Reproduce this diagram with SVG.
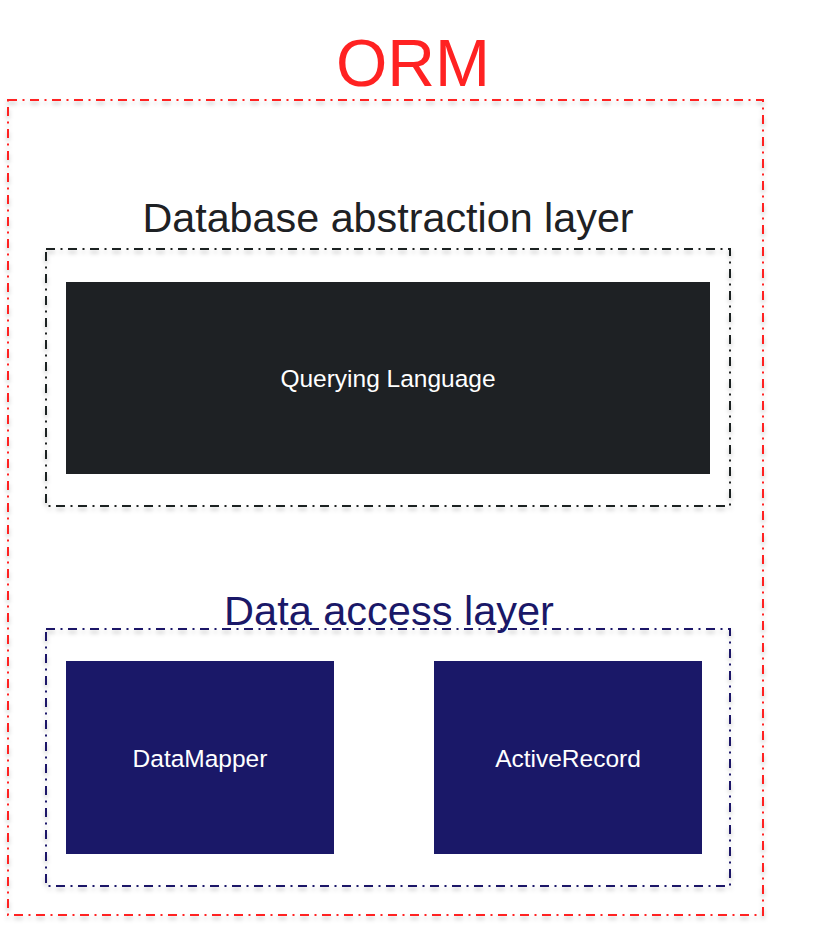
<svg xmlns="http://www.w3.org/2000/svg" width="819" height="927" viewBox="0 0 819 927">
<defs>
<filter id="sh" x="-5%" y="-5%" width="110%" height="115%">
<feDropShadow dx="0" dy="3" stdDeviation="2" flood-color="#000" flood-opacity="0.25"/>
</filter>
</defs>
<style>
.frame{fill:none;stroke-width:2;stroke-dasharray:9 5.5 2 5.5;filter:url(#sh)}
.t{font-family:"Liberation Sans",Arial,sans-serif;text-anchor:middle}
.lbl{font-family:"Liberation Sans",Arial,sans-serif;text-anchor:middle;fill:#ffffff;font-size:24.5px}
</style>
<rect width="819" height="927" fill="#ffffff"/>
<g id="orm">
<rect class="frame" x="8" y="100" width="755" height="815" stroke="#ff2222"/>
<text class="t" x="413" y="86" font-size="66" fill="#ff2222">ORM</text>
</g>
<g id="dal-abstraction">
<rect class="frame" x="46" y="249" width="684" height="257" stroke="#1e2124"/>
<text class="t" x="388" y="232" font-size="41.3" fill="#1e2124">Database abstraction layer</text>
</g>
<g id="querying-language">
<rect x="66" y="282" width="644" height="192" fill="#1e2124"/>
<text class="lbl" x="388" y="387" font-size="24.8">Querying Language</text>
</g>
<g id="data-access">
<rect class="frame" x="46" y="629" width="684" height="257" stroke="#1a1868"/>
<text class="t" x="389" y="625" font-size="41.5" fill="#1a1868">Data access layer</text>
</g>
<g id="datamapper">
<rect x="66" y="661" width="268" height="193" fill="#1a1868"/>
<text class="lbl" x="200" y="767">DataMapper</text>
</g>
<g id="activerecord">
<rect x="434" y="661" width="268" height="193" fill="#1a1868"/>
<text class="lbl" x="568" y="767">ActiveRecord</text>
</g>
<g id="connectors"></g>
</svg>
